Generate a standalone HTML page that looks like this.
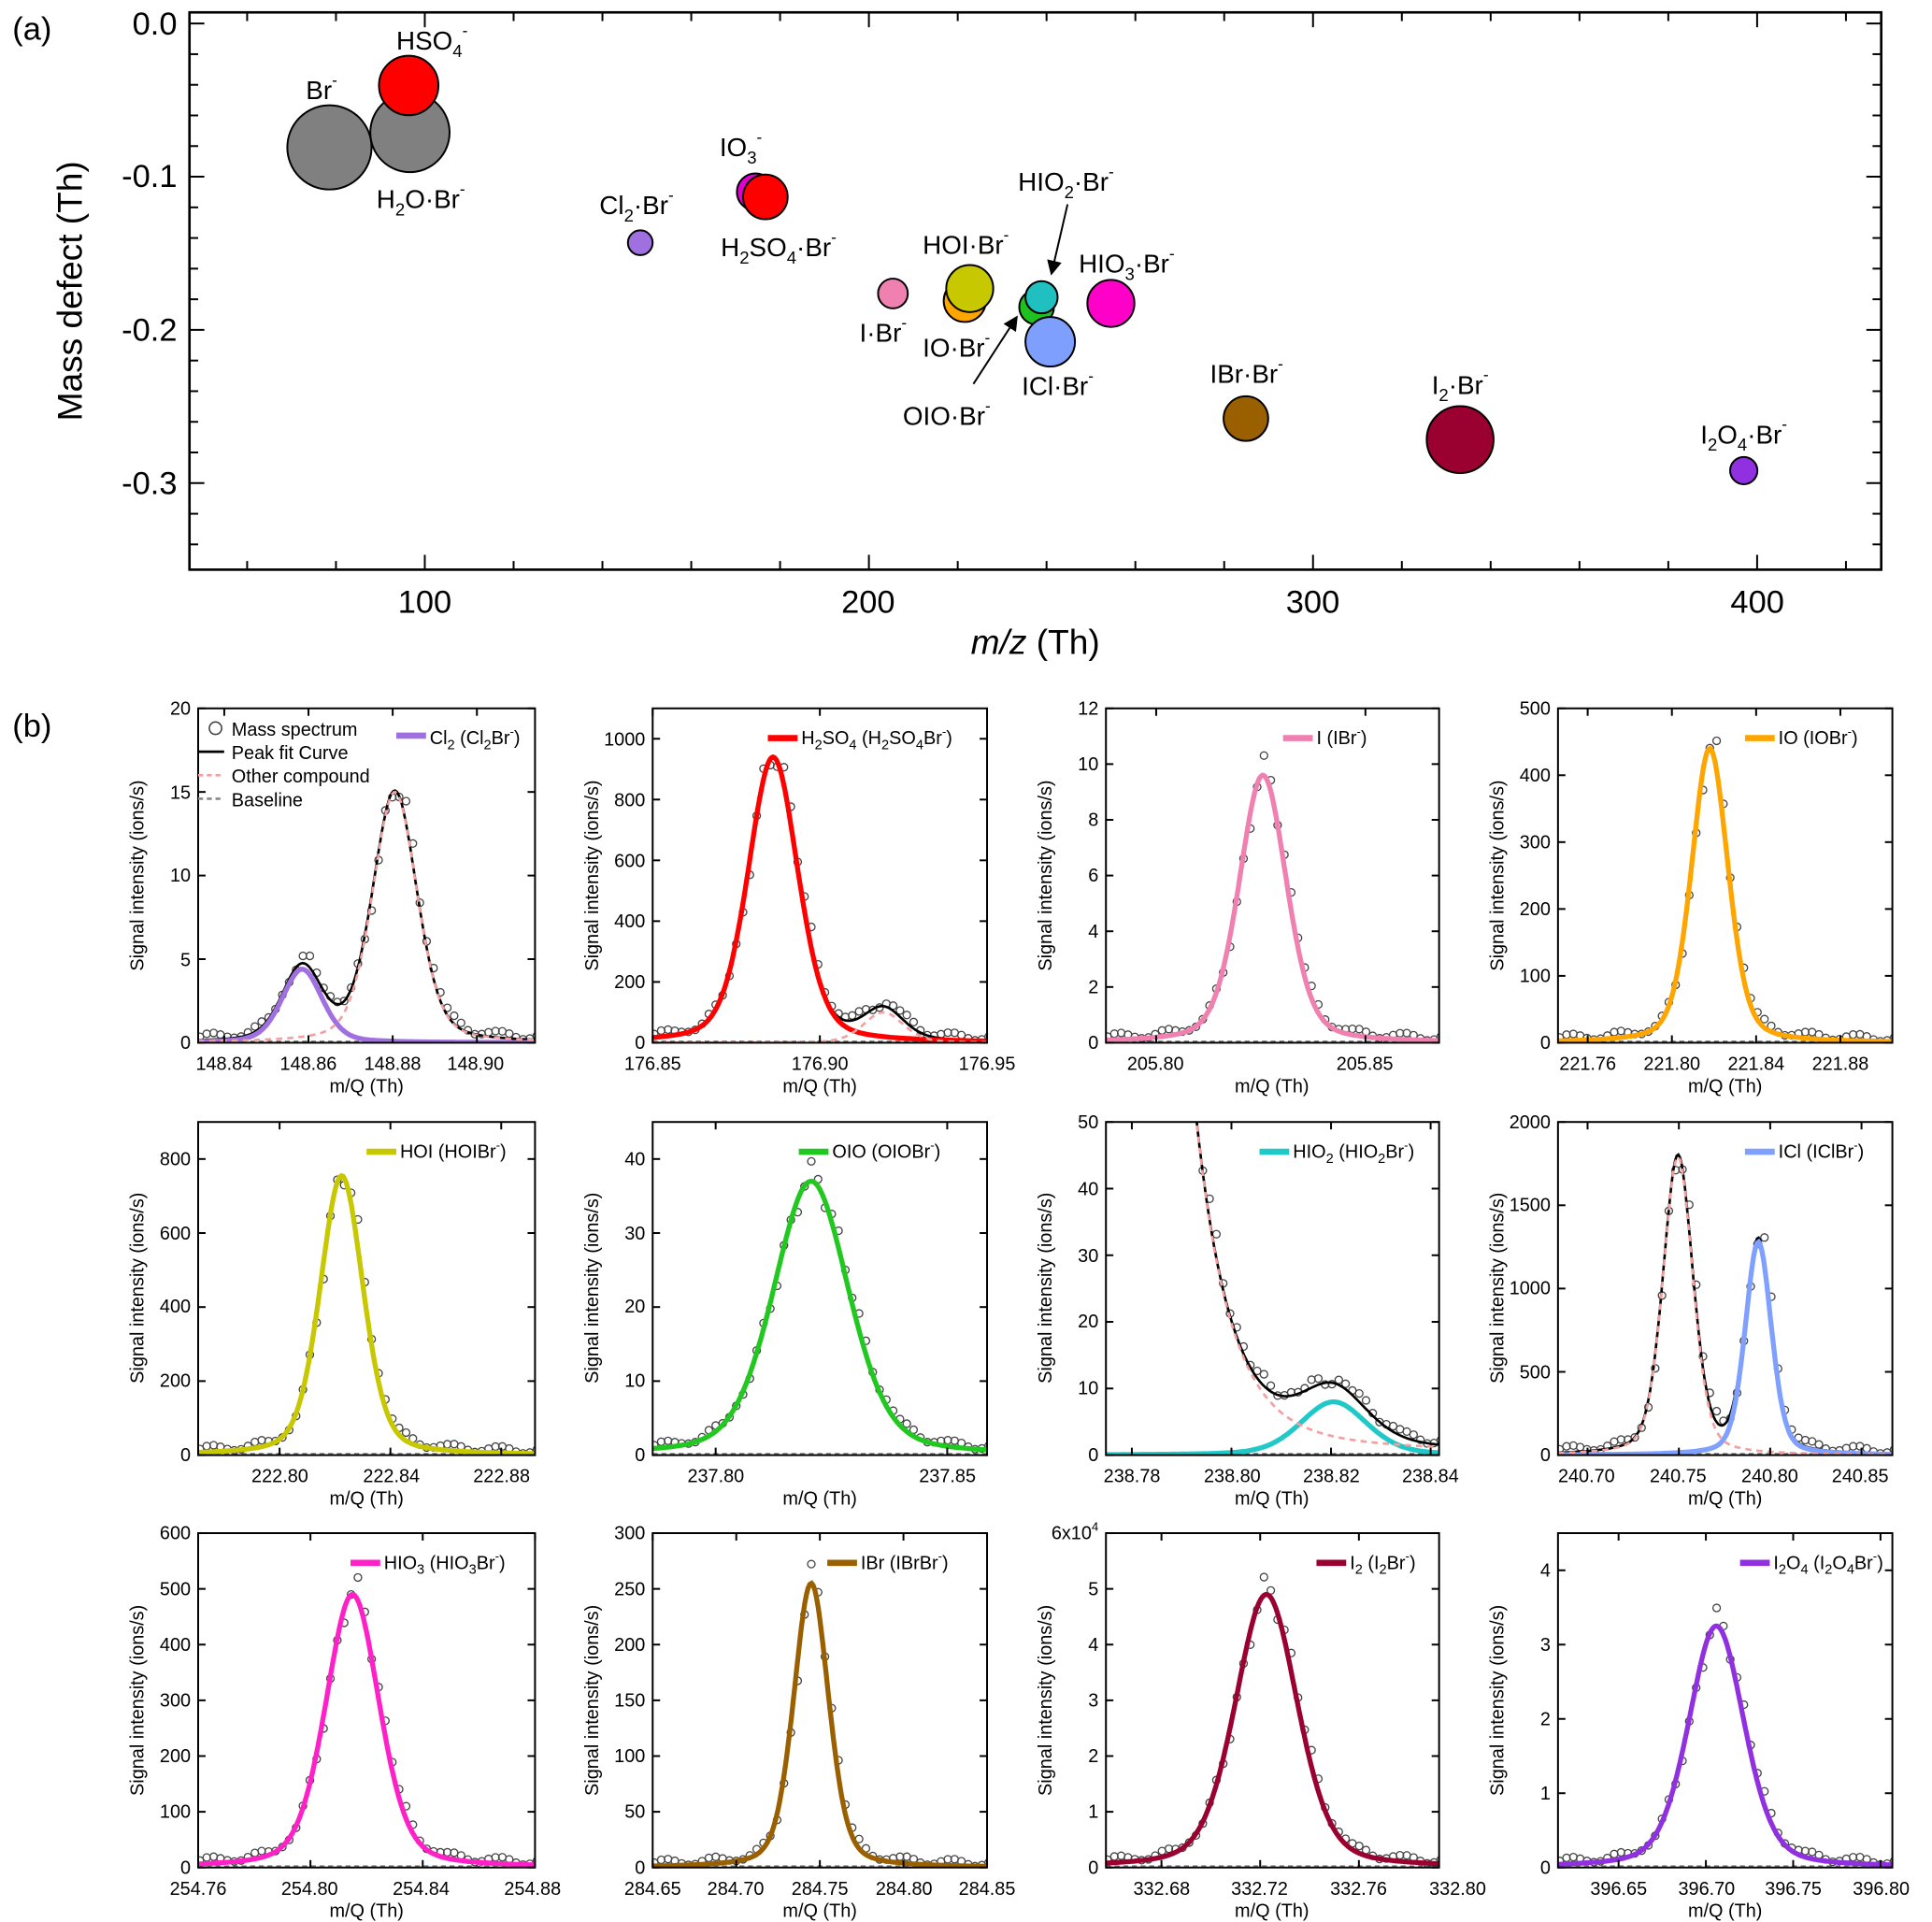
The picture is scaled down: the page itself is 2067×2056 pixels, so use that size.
<!DOCTYPE html>
<html><head><meta charset="utf-8"><style>
html,body{margin:0;padding:0;background:#fff}
svg{display:block}
text{font-family:"Liberation Sans",sans-serif;fill:#000}
</style></head><body>
<svg id="s" width="2067" height="2056" viewBox="0 0 1560 1552" preserveAspectRatio="none" xmlns="http://www.w3.org/2000/svg">
<rect width="1560" height="1552" fill="#fff"/>
<g id="g"></g>
<g font-size="26">
<text x="10" y="32">(a)</text>
<text x="10" y="595">(b)</text>
<g text-anchor="end" font-size="26">
<text x="143" y="28">0.0</text><text x="143" y="151">-0.1</text><text x="143" y="275">-0.2</text><text x="143" y="399">-0.3</text>
</g>
<g text-anchor="middle" font-size="26">
<text x="343" y="495">100</text><text x="701" y="495">200</text><text x="1060" y="495">300</text><text x="1419" y="495">400</text>
</g>
<text x="836" y="528" text-anchor="middle" font-size="28"><tspan font-style="italic">m/z</tspan> (Th)</text>
<text transform="translate(66,235) rotate(-90)" text-anchor="middle" font-size="28">Mass defect (Th)</text>
</g>
<g font-size="21">
<text x="247" y="80">Br<tspan dy="-11" font-size="13">-</tspan></text>
<text x="320" y="40">HSO<tspan dy="6" font-size="14">4</tspan><tspan dy="-17" font-size="13">-</tspan></text>
<text x="304" y="168">H<tspan dy="6" font-size="14">2</tspan><tspan dy="-6">O·Br</tspan><tspan dy="-11" font-size="13">-</tspan></text>
<text x="581" y="126">IO<tspan dy="6" font-size="14">3</tspan><tspan dy="-17" font-size="13">-</tspan></text>
<text x="484" y="173">Cl<tspan dy="6" font-size="14">2</tspan><tspan dy="-6">·Br</tspan><tspan dy="-11" font-size="13">-</tspan></text>
<text x="582" y="207">H<tspan dy="6" font-size="14">2</tspan><tspan dy="-6">SO</tspan><tspan dy="6" font-size="14">4</tspan><tspan dy="-6">·Br</tspan><tspan dy="-11" font-size="13">-</tspan></text>
<text x="745" y="205">HOI·Br<tspan dy="-11" font-size="13">-</tspan></text>
<text x="694" y="276">I·Br<tspan dy="-11" font-size="13">-</tspan></text>
<text x="745" y="288">IO·Br<tspan dy="-11" font-size="13">-</tspan></text>
<text x="822" y="154">HIO<tspan dy="6" font-size="14">2</tspan><tspan dy="-6">·Br</tspan><tspan dy="-11" font-size="13">-</tspan></text>
<text x="871" y="220">HIO<tspan dy="6" font-size="14">3</tspan><tspan dy="-6">·Br</tspan><tspan dy="-11" font-size="13">-</tspan></text>
<text x="729" y="343">OIO·Br<tspan dy="-11" font-size="13">-</tspan></text>
<text x="825" y="319">ICl·Br<tspan dy="-11" font-size="13">-</tspan></text>
<text x="977" y="309">IBr·Br<tspan dy="-11" font-size="13">-</tspan></text>
<text x="1156" y="318">I<tspan dy="6" font-size="14">2</tspan><tspan dy="-6">·Br</tspan><tspan dy="-11" font-size="13">-</tspan></text>
<text x="1373" y="358">I<tspan dy="6" font-size="14">2</tspan><tspan dy="-6">O</tspan><tspan dy="6" font-size="14">4</tspan><tspan dy="-6">·Br</tspan><tspan dy="-11" font-size="13">-</tspan></text>
</g>
<g font-size="15" text-anchor="end">
<text x="154" y="847">0</text><text x="154" y="780">5</text><text x="154" y="712">10</text><text x="154" y="645">15</text><text x="154" y="577">20</text>
<text x="521" y="847">0</text><text x="521" y="798">200</text><text x="521" y="749">400</text><text x="521" y="700">600</text><text x="521" y="651">800</text><text x="521" y="602">1000</text>
<text x="887" y="847">0</text><text x="887" y="802">2</text><text x="887" y="757">4</text><text x="887" y="712">6</text><text x="887" y="667">8</text><text x="887" y="622">10</text><text x="887" y="577">12</text>
<text x="1252" y="847">0</text><text x="1252" y="793">100</text><text x="1252" y="739">200</text><text x="1252" y="685">300</text><text x="1252" y="631">400</text><text x="1252" y="577">500</text>
<text x="154" y="1180">0</text><text x="154" y="1120">200</text><text x="154" y="1060">400</text><text x="154" y="1001">600</text><text x="154" y="941">800</text>
<text x="521" y="1180">0</text><text x="521" y="1120">10</text><text x="521" y="1060">20</text><text x="521" y="1001">30</text><text x="521" y="941">40</text>
<text x="887" y="1180">0</text><text x="887" y="1126">10</text><text x="887" y="1072">20</text><text x="887" y="1019">30</text><text x="887" y="965">40</text><text x="887" y="911">50</text>
<text x="1252" y="1180">0</text><text x="1252" y="1113">500</text><text x="1252" y="1045">1000</text><text x="1252" y="978">1500</text><text x="1252" y="911">2000</text>
<text x="154" y="1513">0</text><text x="154" y="1468">100</text><text x="154" y="1423">200</text><text x="154" y="1378">300</text><text x="154" y="1333">400</text><text x="154" y="1288">500</text><text x="154" y="1243">600</text>
<text x="521" y="1513">0</text><text x="521" y="1468">50</text><text x="521" y="1423">100</text><text x="521" y="1378">150</text><text x="521" y="1333">200</text><text x="521" y="1288">250</text><text x="521" y="1243">300</text>
<text x="887" y="1513">0</text><text x="887" y="1468">1</text><text x="887" y="1423">2</text><text x="887" y="1378">3</text><text x="887" y="1333">4</text><text x="887" y="1288">5</text><text x="887" y="1243">6x10<tspan dy="-7" font-size="10">4</tspan></text>
<text x="1252" y="1513">0</text><text x="1252" y="1453">1</text><text x="1252" y="1393">2</text><text x="1252" y="1333">3</text><text x="1252" y="1273">4</text>
</g>
<g font-size="15" text-anchor="middle">
<text x="181" y="864">148.84</text><text x="249" y="864">148.86</text><text x="317" y="864">148.88</text><text x="384" y="864">148.90</text>
<text x="527" y="864">176.85</text><text x="662" y="864">176.90</text><text x="797" y="864">176.95</text>
<text x="933" y="864">205.80</text><text x="1102" y="864">205.85</text>
<text x="1282" y="864">221.76</text><text x="1350" y="864">221.80</text><text x="1418" y="864">221.84</text><text x="1486" y="864">221.88</text>
<text x="226" y="1197">222.80</text><text x="316" y="1197">222.84</text><text x="405" y="1197">222.88</text>
<text x="578" y="1197">237.80</text><text x="765" y="1197">237.85</text>
<text x="914" y="1197">238.78</text><text x="995" y="1197">238.80</text><text x="1075" y="1197">238.82</text><text x="1155" y="1197">238.84</text>
<text x="1281" y="1197">240.70</text><text x="1355" y="1197">240.75</text><text x="1429" y="1197">240.80</text><text x="1502" y="1197">240.85</text>
<text x="160" y="1530">254.76</text><text x="250" y="1530">254.80</text><text x="340" y="1530">254.84</text><text x="430" y="1530">254.88</text>
<text x="527" y="1530">284.65</text><text x="594" y="1530">284.70</text><text x="662" y="1530">284.75</text><text x="730" y="1530">284.80</text><text x="797" y="1530">284.85</text>
<text x="938" y="1530">332.68</text><text x="1017" y="1530">332.72</text><text x="1097" y="1530">332.76</text><text x="1177" y="1530">332.80</text>
<text x="1307" y="1530">396.65</text><text x="1378" y="1530">396.70</text><text x="1448" y="1530">396.75</text><text x="1519" y="1530">396.80</text>
<text x="296" y="882">m/Q (Th)</text><text x="662" y="882">m/Q (Th)</text><text x="1027" y="882">m/Q (Th)</text><text x="1393" y="882">m/Q (Th)</text>
<text x="296" y="1215">m/Q (Th)</text><text x="662" y="1215">m/Q (Th)</text><text x="1027" y="1215">m/Q (Th)</text><text x="1393" y="1215">m/Q (Th)</text>
<text x="296" y="1548">m/Q (Th)</text><text x="662" y="1548">m/Q (Th)</text><text x="1027" y="1548">m/Q (Th)</text><text x="1393" y="1548">m/Q (Th)</text>
<text transform="translate(116,707) rotate(-90)">Signal intensity (ions/s)</text>
<text transform="translate(483,707) rotate(-90)">Signal intensity (ions/s)</text>
<text transform="translate(849,707) rotate(-90)">Signal intensity (ions/s)</text>
<text transform="translate(1214,707) rotate(-90)">Signal intensity (ions/s)</text>
<text transform="translate(116,1040) rotate(-90)">Signal intensity (ions/s)</text>
<text transform="translate(483,1040) rotate(-90)">Signal intensity (ions/s)</text>
<text transform="translate(849,1040) rotate(-90)">Signal intensity (ions/s)</text>
<text transform="translate(1214,1040) rotate(-90)">Signal intensity (ions/s)</text>
<text transform="translate(116,1373) rotate(-90)">Signal intensity (ions/s)</text>
<text transform="translate(483,1373) rotate(-90)">Signal intensity (ions/s)</text>
<text transform="translate(849,1373) rotate(-90)">Signal intensity (ions/s)</text>
<text transform="translate(1214,1373) rotate(-90)">Signal intensity (ions/s)</text>
</g>
<g font-size="15">
<text x="187" y="594">Mass spectrum</text><text x="187" y="613">Peak fit Curve</text><text x="187" y="632">Other compound</text><text x="187" y="651">Baseline</text>
<text x="347" y="601">Cl<tspan dy="4" font-size="11">2</tspan><tspan dy="-4"> (Cl</tspan><tspan dy="4" font-size="11">2</tspan><tspan dy="-4">Br</tspan><tspan dy="-7" font-size="10">-</tspan><tspan dy="7">)</tspan></text>
<text x="647" y="601">H<tspan dy="4" font-size="11">2</tspan><tspan dy="-4">SO</tspan><tspan dy="4" font-size="11">4</tspan><tspan dy="-4"> (H</tspan><tspan dy="4" font-size="11">2</tspan><tspan dy="-4">SO</tspan><tspan dy="4" font-size="11">4</tspan><tspan dy="-4">Br</tspan><tspan dy="-7" font-size="10">-</tspan><tspan dy="7">)</tspan></text>
<text x="1063" y="601">I (IBr<tspan dy="-7" font-size="10">-</tspan><tspan dy="7">)</tspan></text>
<text x="1436" y="601">IO (IOBr<tspan dy="-7" font-size="10">-</tspan><tspan dy="7">)</tspan></text>
<text x="323" y="935">HOI (HOIBr<tspan dy="-7" font-size="10">-</tspan><tspan dy="7">)</tspan></text>
<text x="672" y="935">OIO (OIOBr<tspan dy="-7" font-size="10">-</tspan><tspan dy="7">)</tspan></text>
<text x="1044" y="935">HIO<tspan dy="4" font-size="11">2</tspan><tspan dy="-4"> (HIO</tspan><tspan dy="4" font-size="11">2</tspan><tspan dy="-4">Br</tspan><tspan dy="-7" font-size="10">-</tspan><tspan dy="7">)</tspan></text>
<text x="1436" y="935">ICl (IClBr<tspan dy="-7" font-size="10">-</tspan><tspan dy="7">)</tspan></text>
<text x="310" y="1267">HIO<tspan dy="4" font-size="11">3</tspan><tspan dy="-4"> (HIO</tspan><tspan dy="4" font-size="11">3</tspan><tspan dy="-4">Br</tspan><tspan dy="-7" font-size="10">-</tspan><tspan dy="7">)</tspan></text>
<text x="695" y="1267">IBr (IBrBr<tspan dy="-7" font-size="10">-</tspan><tspan dy="7">)</tspan></text>
<text x="1090" y="1267">I<tspan dy="4" font-size="11">2</tspan><tspan dy="-4"> (I</tspan><tspan dy="4" font-size="11">2</tspan><tspan dy="-4">Br</tspan><tspan dy="-7" font-size="10">-</tspan><tspan dy="7">)</tspan></text>
<text x="1432" y="1267">I<tspan dy="4" font-size="11">2</tspan><tspan dy="-4">O</tspan><tspan dy="4" font-size="11">4</tspan><tspan dy="-4"> (I</tspan><tspan dy="4" font-size="11">2</tspan><tspan dy="-4">O</tspan><tspan dy="4" font-size="11">4</tspan><tspan dy="-4">Br</tspan><tspan dy="-7" font-size="10">-</tspan><tspan dy="7">)</tspan></text>
</g>
</svg>
<script>
var NS="http://www.w3.org/2000/svg",G=document.getElementById("g");
function el(t,a){var e=document.createElementNS(NS,t);for(var k in a)e.setAttribute(k,a[k]);G.appendChild(e);return e;}
function ln(x1,y1,x2,y2,c,w,d){var a={x1:x1,y1:y1,x2:x2,y2:y2,stroke:c||"#000","stroke-width":w||1.5};if(d)a["stroke-dasharray"]=d;el("line",a);}
el("rect",{x:153,y:10,width:1366,height:450,fill:"none",stroke:"#000","stroke-width":2});
function X(v){return 343+(v-100)*3.586;}function Y(v){return 19-v*1237;}
for(var v=60;v<=420;v+=20){var x=X(v),L=(v%100==0)?12:7;ln(x,460,x,460-L);ln(x,10,x,10+L);}
for(var i=0;i>=-17;i--){var v=i*0.02,y=Y(v),L=(i%5==0)?12:7;ln(153,y,153+L,y);ln(1519,y,1519-L,y);}
var B=[[266,119,34,"#808080"],[331,107,32,"#808080"],[330,69,24,"#ff0000"],[610,155,15,"#e000d0"],[618,159,18,"#ff0000"],[517,196,10,"#a070e0"],[721,237,12,"#f080b0"],[779,243,17,"#ffa500"],[783,233,19,"#c8c800"],[837,248,14,"#20c020"],[841,240,13,"#20c0c0"],[848,276,20,"#7f9fff"],[897,245,19,"#ff00c8"],[1006,338,18,"#9a6000"],[1179,355,27,"#9a0030"],[1408,380,11,"#9030e0"]];
B.forEach(function(b){el("circle",{cx:b[0],cy:b[1],r:b[2],fill:b[3],stroke:"#000","stroke-width":1.5});});
el("defs",{}).innerHTML='<marker id="ar" markerWidth="8" markerHeight="8" refX="7" refY="4" orient="auto"><path d="M0,0 L8,4 L0,8 z" fill="#000"/></marker>';
el("line",{x1:862,y1:165,x2:849,y2:221,stroke:"#000","stroke-width":1.5,"marker-end":"url(#ar)"});
el("line",{x1:786,y1:310,x2:821,y2:256,stroke:"#000","stroke-width":1.5,"marker-end":"url(#ar)"});
function pv(x,c,h,s){var d=x-c;return h*(0.68*Math.exp(-d*d/(2*s*s))+0.32/(1+d*d/(1.39*s*s)));}
var R=[[572,842],[906,1175],[1238,1508]],C=[[160,432],[527,797],[893,1162],[1258,1528]];
var P=[
{r:0,c:0,xa:148.8338,xb:148.9138,yb:20,xt:[148.84,148.86,148.88,148.90],yt:5,col:"#a070e0",m:[148.8585,4.4,0.0048],o:function(x){return pv(x,148.8805,15,0.0053);},ly:594},
{r:0,c:1,xa:176.85,xb:176.95,yb:1100,xt:[176.85,176.90,176.95],yt:200,col:"#ff0000",m:[176.886,940,0.0075],o:function(x){return pv(x,176.919,100,0.006);},ly:596},
{r:0,c:2,xa:205.788,xb:205.8676,yb:12,xt:[205.80,205.85],yt:2,col:"#f080b0",m:[205.8255,9.6,0.0057],ly:596},
{r:0,c:3,xa:221.7459,xb:221.9047,yb:500,xt:[221.76,221.80,221.84,221.88],yt:100,col:"#ffa500",m:[221.818,440,0.0087],ly:596},
{r:1,c:0,xa:222.7706,xb:222.8922,yb:900,xt:[222.80,222.84,222.88],yt:200,col:"#c8c800",m:[222.8224,755,0.0078],ly:930},
{r:1,c:1,xa:237.7864,xb:237.8586,yb:45,xt:[237.80,237.85],yt:10,col:"#20c820",m:[237.8206,37,0.0082],ly:930},
{r:1,c:2,xa:238.7748,xb:238.8417,yb:50,xt:[238.78,238.80,238.82,238.84],yt:10,col:"#20c8c8",m:[238.8205,8,0.0067],o:function(x){var d=x-238.793;return 46*Math.exp(-d/0.0068)+4*Math.exp(-d/0.04);},ly:930},
{r:1,c:3,xa:240.6838,xb:240.8669,yb:2000,xt:[240.70,240.75,240.80,240.85],yt:500,col:"#7fa0ff",m:[240.7935,1280,0.0072],o:function(x){return pv(x,240.7495,1790,0.0082);},ly:930},
{r:2,c:0,xa:254.76,xb:254.88,yb:600,xt:[254.76,254.80,254.84,254.88],yt:100,col:"#ff20c8",m:[254.815,490,0.0096],ly:1262},
{r:2,c:1,xa:284.65,xb:284.85,yb:300,xt:[284.65,284.70,284.75,284.80,284.85],yt:50,col:"#9a6000",m:[284.7448,255,0.0105],ly:1262},
{r:2,c:2,xa:332.6575,xb:332.7925,yb:6,xt:[332.68,332.72,332.76],yt:1,col:"#9a0030",m:[332.7225,4.9,0.0127],ly:1262},
{r:2,c:3,xa:396.6153,xb:396.8068,yb:4.5,xt:[396.65,396.70,396.75,396.80],yt:1,col:"#9030e0",m:[396.706,3.25,0.016],ly:1262}
];
var LX=[320,620,1036,1409,296,645,1017,1409,283,668,1063,1405];
P.forEach(function(p,k){
 var x0=C[p.c][0],x1=C[p.c][1],y0=R[p.r][0],y1=R[p.r][1];
 function sx(v){return x0+(v-p.xa)/(p.xb-p.xa)*(x1-x0);}
 function sy(v){return y1-v/p.yb*(y1-y0);}
 var cl=el("clipPath",{id:"c"+k});var rr=document.createElementNS(NS,"rect");rr.setAttribute("x",x0);rr.setAttribute("y",y0);rr.setAttribute("width",x1-x0);rr.setAttribute("height",y1-y0);cl.appendChild(rr);
 var g=el("g",{"clip-path":"url(#c"+k+")"});
 function add(t,a){var e=document.createElementNS(NS,t);for(var q in a)e.setAttribute(q,a[q]);g.appendChild(e);return e;}
 var N=200,pm="",po="",ps="";
 for(var i=0;i<=N;i++){var x=p.xa+(p.xb-p.xa)*i/N,m=pv(x,p.m[0],p.m[1],p.m[2]),o=p.o?p.o(x):0;
  var X0=sx(x).toFixed(1);pm+=(i?"L":"M")+X0+","+sy(m).toFixed(1);po+=(i?"L":"M")+X0+","+sy(o).toFixed(1);ps+=(i?"L":"M")+X0+","+sy(m+o).toFixed(1);}
 add("line",{x1:x0,y1:y1-1,x2:x1,y2:y1-1,stroke:"#777","stroke-width":1.5,"stroke-dasharray":"4,3"});
 var n=Math.round((x1-x0)/5.5);
 for(var i=0;i<=n;i++){var x=p.xa+(p.xb-p.xa)*i/n,v=pv(x,p.m[0],p.m[1],p.m[2])+(p.o?p.o(x):0);
  v=v*(1+0.05*Math.sin(i*1.7))+p.yb*0.01*(1+Math.sin(i*0.9));
  add("circle",{cx:sx(x+(p.xb-p.xa)*0.005).toFixed(1),cy:sy(v).toFixed(1),r:3,fill:"none",stroke:"#444","stroke-width":1});}
 if(p.o){add("path",{d:ps,fill:"none",stroke:"#000","stroke-width":2});}
 add("path",{d:pm,fill:"none",stroke:p.col,"stroke-width":4});
 if(p.o){add("path",{d:po,fill:"none",stroke:"#f4a0a0","stroke-width":2,"stroke-dasharray":"5,4"});}
 el("rect",{x:x0,y:y0,width:x1-x0,height:y1-y0,fill:"none",stroke:"#000","stroke-width":1.5});
 p.xt.forEach(function(v){var x=sx(v);if(x<x0-0.5||x>x1+0.5)return;ln(x,y1,x,y1-6);ln(x,y0,x,y0+6);});
 for(var v=0;v<=p.yb+1e-9;v+=p.yt){var y=sy(v);ln(x0,y,x0+6,y);ln(x1,y,x1-6,y);}
 ln(LX[k],p.ly,LX[k]+24,p.ly,p.col,5);
});
el("circle",{cx:174,cy:588,r:5,fill:"none",stroke:"#444","stroke-width":1.2});
ln(160,607,181,607,"#000",2);ln(160,626,181,626,"#f4a0a0",2,"4,3");ln(160,645,181,645,"#888",2,"4,3");
</script>
</body></html>
